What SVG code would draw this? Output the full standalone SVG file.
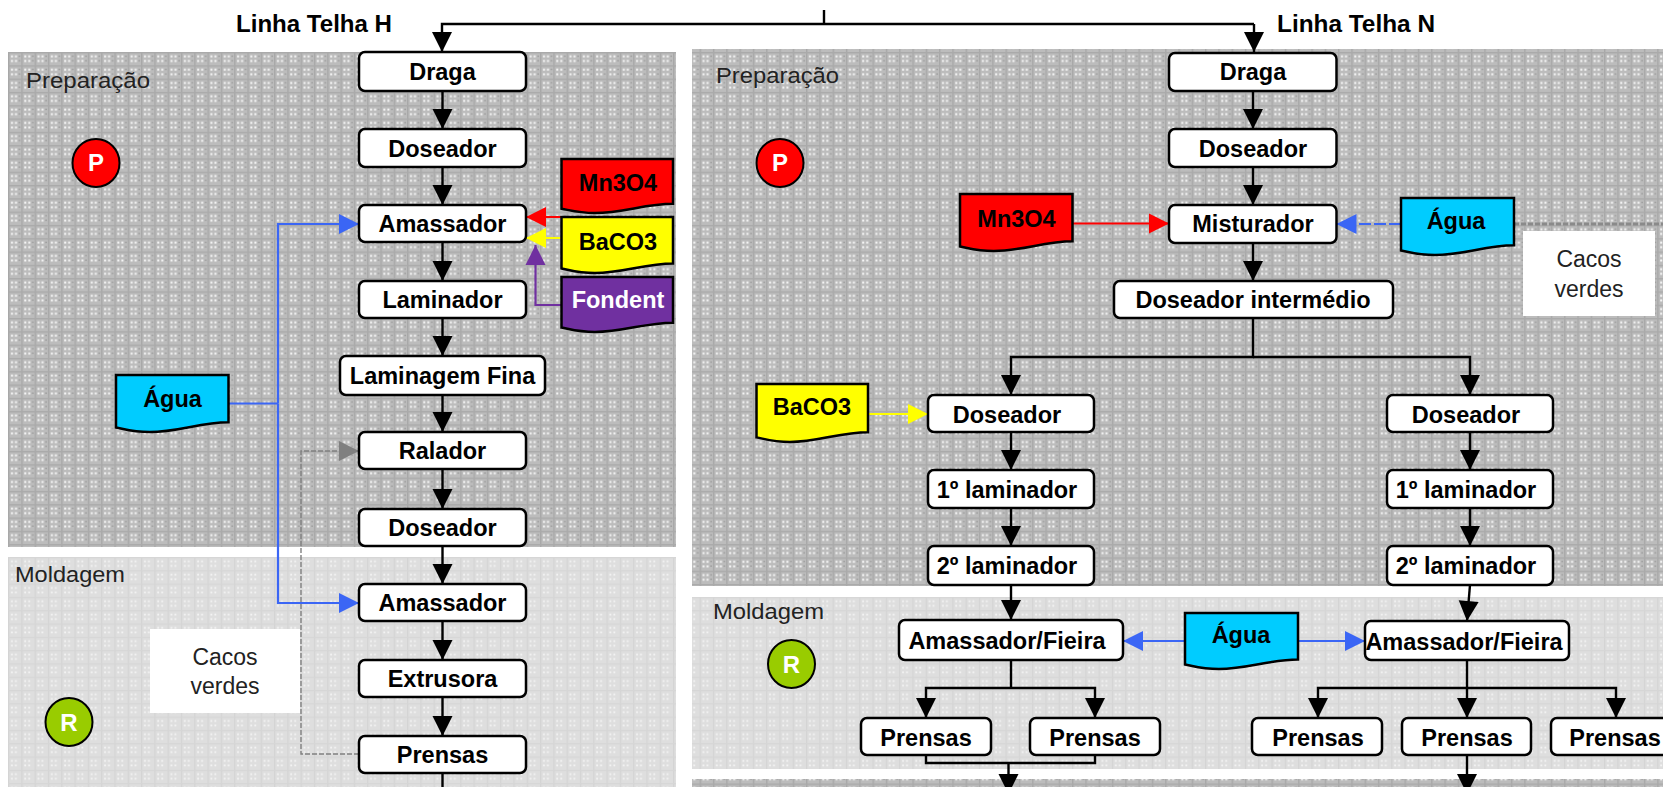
<svg xmlns="http://www.w3.org/2000/svg" xmlns:xlink="http://www.w3.org/1999/xlink" width="1663" height="787" viewBox="0 0 1663 787">
<style>
text{font-family:"Liberation Sans",Arial,sans-serif;fill:#000}
.n rect{fill:#fff;stroke:#000;stroke-width:2.5}
.n text,.d text,.t{font-weight:bold;font-size:23.5px;text-anchor:middle}
.l{font-size:22.5px;fill:#222}
.c{font-size:23px;text-anchor:middle;fill:#222}
.b{fill:none;stroke:#000;stroke-width:2.4}
.a{marker-end:url(#mk)}
.doc{stroke:#000;stroke-width:2.5}
.lt{fill:none;stroke-width:2.2}
.k{font-weight:bold;font-size:24px;text-anchor:middle;fill:#fff}
</style>
<defs>
<pattern id="pd" width="13.3" height="13.3" patternUnits="userSpaceOnUse" x="8" y="52">
<rect width="13.3" height="13.3" fill="#bcbcbc"/>
<rect width="1.4" height="13.3" fill="#a8a8a8"/><rect width="13.3" height="1.4" fill="#aaaaaa"/>
<g fill="#f6f6f6"><rect x="3" y="3.400" width="2" height="2"/><rect x="7" y="3.400" width="2" height="2"/><rect x="3" y="8" width="2" height="2"/><rect x="7" y="8" width="2" height="2"/></g>
<g fill="#999"><rect x="10.800" y="3.500" width="1.400" height="1.400"/><rect x="10.800" y="8" width="1.400" height="1.400"/></g>
</pattern>
<pattern id="pl" width="13.3" height="13.3" patternUnits="userSpaceOnUse" x="8" y="557">
<rect width="13.3" height="13.3" fill="#dedede"/>
<rect width="1.2" height="13.3" fill="#d4d4d4"/><rect width="13.3" height="1.2" fill="#d6d6d6"/>
<g fill="#f4f4f4"><rect x="3" y="3.500" width="1.800" height="1.800"/><rect x="7" y="3.500" width="1.800" height="1.800"/><rect x="3" y="8" width="1.800" height="1.800"/><rect x="7" y="8" width="1.800" height="1.800"/></g>
</pattern>
<marker id="mk" markerUnits="userSpaceOnUse" markerWidth="20" markerHeight="20" refX="20" refY="10" orient="auto" overflow="visible"><path d="M0,0L20,10L0,20Z" fill="#000"/></marker>
<marker id="mb" markerUnits="userSpaceOnUse" markerWidth="20" markerHeight="20" refX="20" refY="10" orient="auto" overflow="visible"><path d="M0,0L20,10L0,20Z" fill="#3b66f5"/></marker>
<marker id="mr" markerUnits="userSpaceOnUse" markerWidth="20" markerHeight="20" refX="20" refY="10" orient="auto" overflow="visible"><path d="M0,0L20,10L0,20Z" fill="#f00"/></marker>
<marker id="my" markerUnits="userSpaceOnUse" markerWidth="20" markerHeight="20" refX="20" refY="10" orient="auto" overflow="visible"><path d="M0,0L20,10L0,20Z" fill="#ff0"/></marker>
<marker id="mp" markerUnits="userSpaceOnUse" markerWidth="20" markerHeight="20" refX="20" refY="10" orient="auto" overflow="visible"><path d="M0,0L20,10L0,20Z" fill="#7030a0"/></marker>
<marker id="mg" markerUnits="userSpaceOnUse" markerWidth="20" markerHeight="20" refX="20" refY="10" orient="auto" overflow="visible"><path d="M0,0L20,10L0,20Z" fill="#808080"/></marker>
<symbol id="doc" viewBox="0 0 100 100" preserveAspectRatio="none" overflow="visible"><path vector-effect="non-scaling-stroke" d="M0,0H100V83C75,83 55,100 30,100C15,100 8,95 0,92Z"/></symbol>
</defs>

<g id="panels">
<rect x="8" y="52" width="668" height="495" fill="url(#pd)"/>
<rect x="8" y="557" width="668" height="230" fill="url(#pl)"/>
<rect x="692" y="49" width="971" height="537" fill="url(#pd)"/>
<rect x="692" y="597" width="971" height="172" fill="url(#pl)"/>
<rect x="692" y="779" width="971" height="8" fill="url(#pd)"/>
<rect x="150" y="629" width="150" height="84" fill="#fff"/>
<rect x="1523" y="231" width="132" height="85" fill="#fff"/>
</g>

<g id="labels">
<text class="t" x="314" y="32" textLength="156" lengthAdjust="spacingAndGlyphs">Linha Telha H</text>
<text class="t" x="1356" y="32" textLength="158" lengthAdjust="spacingAndGlyphs">Linha Telha N</text>
<text class="l" x="26" y="88" textLength="124" lengthAdjust="spacingAndGlyphs">Preparação</text>
<text class="l" x="716" y="83" textLength="123" lengthAdjust="spacingAndGlyphs">Preparação</text>
<text class="l" x="15" y="582" textLength="110" lengthAdjust="spacingAndGlyphs">Moldagem</text>
<text class="l" x="713" y="619" textLength="111" lengthAdjust="spacingAndGlyphs">Moldagem</text>
<text class="c" x="225" y="665">Cacos</text><text class="c" x="225" y="694">verdes</text>
<text class="c" x="1589" y="267">Cacos</text><text class="c" x="1589" y="297">verdes</text>
</g>

<g id="connectors">
<path class="b" d="M824,10V24"/>
<path class="b" d="M1254,24H442V52" style="marker-end:url(#mk)"/>
<path class="b" d="M1254,24V52" style="marker-end:url(#mk)"/>
<path class="b a" d="M442.500,91V129"/><path class="b a" d="M442.500,167V205"/><path class="b a" d="M442.500,242V281"/><path class="b a" d="M442.500,318V356"/><path class="b a" d="M442.500,395V432"/><path class="b a" d="M442.500,469V509"/><path class="b a" d="M442.500,546V584"/><path class="b a" d="M442.500,621V660"/><path class="b a" d="M442.500,697V736"/>
<path class="b" d="M442.500,773V787"/>
<path class="lt" stroke="#3b66f5" d="M228,403.500H278"/>
<path class="lt" stroke="#3b66f5" d="M278,403.500V224H359" style="marker-end:url(#mb)"/>
<path class="lt" stroke="#3b66f5" d="M278,403.500V603H359" style="marker-end:url(#mb)"/>
<path fill="none" stroke="#808080" stroke-width="1.400" stroke-dasharray="5 2" d="M359,754H301V451H359" style="marker-end:url(#mg)"/>
<path class="lt" stroke="#f00" d="M561,217H526" style="marker-end:url(#mr)"/>
<path class="lt" stroke="#ff0" d="M561,238H526" style="marker-end:url(#my)"/>
<path class="lt" stroke="#7030a0" d="M561,305H535.500V245" style="marker-end:url(#mp)"/>

<path class="b a" d="M1253,91V129"/><path class="b a" d="M1253,167V205"/><path class="b a" d="M1253,243V281"/>
<path class="b" d="M1253,318V357H1011V395" style="marker-end:url(#mk)"/>
<path class="b" d="M1253,357H1470V395" style="marker-end:url(#mk)"/>
<path class="lt" stroke="#f00" d="M1072,223.500H1169" style="marker-end:url(#mr)"/>
<path class="lt" stroke="#3b66f5" stroke-dasharray="12 3" d="M1401,224H1336.500" style="marker-end:url(#mb)"/>
<path fill="none" stroke="#8a8a8a" stroke-width="3" stroke-dasharray="5 2" d="M1514,224H1663"/>
<path class="lt" stroke="#ff0" d="M868,414H928" style="marker-end:url(#my)"/>
<path class="b a" d="M1011,432V470"/><path class="b a" d="M1011,508V546"/><path class="b a" d="M1011,585V620"/>
<path class="b a" d="M1470,432V470"/><path class="b a" d="M1470,508V546"/><path class="b a" d="M1470,585L1467,621"/>
<path class="lt" stroke="#3b66f5" stroke-width="2.600" d="M1185,641H1123" style="marker-end:url(#mb)"/>
<path class="lt" stroke="#3b66f5" stroke-width="2.600" d="M1298,641H1365" style="marker-end:url(#mb)"/>
<path class="b" d="M1011,660V688"/>
<path class="b" d="M1011,688H926V718" style="marker-end:url(#mk)"/>
<path class="b" d="M1011,688H1095V718" style="marker-end:url(#mk)"/>
<path class="b" d="M1467,660V718" style="marker-end:url(#mk)"/>
<path class="b" d="M1467,688H1318V718" style="marker-end:url(#mk)"/>
<path class="b" d="M1467,688H1616V718" style="marker-end:url(#mk)"/>
<path class="b" d="M926,755V763H1095V755"/>
<path class="b" d="M1008.500,763V794" style="marker-end:url(#mk)"/>
<path class="b" d="M1467,755V794" style="marker-end:url(#mk)"/>
</g>

<g id="n-l-draga" class="n"><rect x="359" y="52" width="167" height="39" rx="6"/><text x="442.500" y="80">Draga</text></g>
<g id="n-l-doseador1" class="n"><rect x="359" y="129" width="167" height="38" rx="6"/><text x="442.500" y="157">Doseador</text></g>
<g id="n-l-amassador1" class="n"><rect x="359" y="205" width="167" height="37" rx="6"/><text x="442.500" y="232">Amassador</text></g>
<g id="n-l-laminador" class="n"><rect x="359" y="281" width="167" height="37" rx="6"/><text x="442.500" y="308">Laminador</text></g>
<g id="n-l-laminagem" class="n"><rect x="340" y="356" width="205" height="39" rx="6"/><text x="442.500" y="384">Laminagem Fina</text></g>
<g id="n-l-ralador" class="n"><rect x="359" y="432" width="167" height="37" rx="6"/><text x="442.500" y="459">Ralador</text></g>
<g id="n-l-doseador2" class="n"><rect x="359" y="509" width="167" height="37" rx="6"/><text x="442.500" y="536">Doseador</text></g>
<g id="n-l-amassador2" class="n"><rect x="359" y="584" width="167" height="37" rx="6"/><text x="442.500" y="611">Amassador</text></g>
<g id="n-l-extrusora" class="n"><rect x="359" y="660" width="167" height="37" rx="6"/><text x="442.500" y="687">Extrusora</text></g>
<g id="n-l-prensas" class="n"><rect x="359" y="736" width="167" height="37" rx="6"/><text x="442.500" y="763">Prensas</text></g>

<g id="d-l-mn" class="d"><use xlink:href="#doc" href="#doc" x="561.500" y="159" width="111.500" height="54" fill="#f00" class="doc"/><text x="618" y="190.500">Mn3O4</text></g>
<g id="d-l-ba" class="d"><use xlink:href="#doc" href="#doc" x="561.500" y="217" width="111.500" height="56" fill="#ff0" class="doc"/><text x="618" y="250">BaCO3</text></g>
<g id="d-l-fo" class="d"><use xlink:href="#doc" href="#doc" x="561.500" y="277" width="111.500" height="55" fill="#7030a0" class="doc"/><text x="618" y="308" style="fill:#fff">Fondent</text></g>
<g id="d-l-ag" class="d"><use xlink:href="#doc" href="#doc" x="116" y="375" width="112.500" height="57" fill="#00ccff" class="doc"/><text x="172.500" y="407">Água</text></g>

<g id="k-l-p"><ellipse cx="96" cy="163" rx="23.500" ry="24" fill="#f00" stroke="#000" stroke-width="2"/><text class="k" x="96" y="171">P</text></g>
<g id="k-l-r"><ellipse cx="69" cy="722" rx="23.500" ry="24" fill="#99cc00" stroke="#000" stroke-width="2"/><text class="k" x="69" y="731">R</text></g>
<g id="k-r-p"><ellipse cx="780" cy="163" rx="23.500" ry="24" fill="#f00" stroke="#000" stroke-width="2"/><text class="k" x="780" y="171">P</text></g>
<g id="k-r-r"><ellipse cx="791.500" cy="664" rx="23.500" ry="24" fill="#99cc00" stroke="#000" stroke-width="2"/><text class="k" x="791.500" y="673">R</text></g>

<g id="n-r-draga" class="n"><rect x="1169" y="53" width="167.500" height="38" rx="6"/><text x="1253" y="80">Draga</text></g>
<g id="n-r-doseador" class="n"><rect x="1169" y="129" width="167.500" height="38" rx="6"/><text x="1253" y="157">Doseador</text></g>
<g id="n-r-misturador" class="n"><rect x="1169" y="205" width="167.500" height="38" rx="6"/><text x="1253" y="232">Misturador</text></g>
<g id="n-r-intermedio" class="n"><rect x="1114" y="281" width="279" height="37" rx="6"/><text x="1253" y="308">Doseador intermédio</text></g>
<g id="n-r-dos-a" class="n"><rect x="928" y="395" width="166" height="37" rx="6"/><text x="1007" y="423">Doseador</text></g>
<g id="n-r-dos-b" class="n"><rect x="1387" y="395" width="166" height="37" rx="6"/><text x="1466" y="423">Doseador</text></g>
<g id="n-r-l1a" class="n"><rect x="928" y="470" width="166" height="38" rx="6"/><text x="1007" y="498">1º laminador</text></g>
<g id="n-r-l1b" class="n"><rect x="1387" y="470" width="166" height="38" rx="6"/><text x="1466" y="498">1º laminador</text></g>
<g id="n-r-l2a" class="n"><rect x="928" y="546" width="166" height="39" rx="6"/><text x="1007" y="574">2º laminador</text></g>
<g id="n-r-l2b" class="n"><rect x="1387" y="546" width="166" height="39" rx="6"/><text x="1466" y="574">2º laminador</text></g>
<g id="n-r-am-a" class="n"><rect x="899" y="620" width="224" height="40" rx="6"/><text x="1007" y="649">Amassador/Fieira</text></g>
<g id="n-r-am-b" class="n"><rect x="1365" y="621" width="204" height="39" rx="6"/><text x="1464" y="650">Amassador/Fieira</text></g>
<g id="n-r-pr1" class="n"><rect x="861" y="718" width="130" height="37" rx="6"/><text x="926" y="746">Prensas</text></g>
<g id="n-r-pr2" class="n"><rect x="1030" y="718" width="130" height="37" rx="6"/><text x="1095" y="746">Prensas</text></g>
<g id="n-r-pr3" class="n"><rect x="1252" y="718" width="130" height="37" rx="6"/><text x="1318" y="746">Prensas</text></g>
<g id="n-r-pr4" class="n"><rect x="1402" y="718" width="129" height="37" rx="6"/><text x="1467" y="746">Prensas</text></g>
<g id="n-r-pr5" class="n"><rect x="1551" y="718" width="130" height="37" rx="6"/><text x="1615" y="746">Prensas</text></g>

<g id="d-r-mn" class="d"><use xlink:href="#doc" href="#doc" x="960" y="194" width="112.500" height="57" fill="#f00" class="doc"/><text x="1016.500" y="226.500">Mn3O4</text></g>
<g id="d-r-ag" class="d"><use xlink:href="#doc" href="#doc" x="1401" y="198" width="113" height="57" fill="#00ccff" class="doc"/><text x="1456" y="229">Água</text></g>
<g id="d-r-ba" class="d"><use xlink:href="#doc" href="#doc" x="756.500" y="384" width="111.500" height="58" fill="#ff0" class="doc"/><text x="812" y="415">BaCO3</text></g>
<g id="d-r-ag2" class="d"><use xlink:href="#doc" href="#doc" x="1185" y="613" width="113" height="56" fill="#00ccff" class="doc"/><text x="1241" y="643">Água</text></g>
</svg>
